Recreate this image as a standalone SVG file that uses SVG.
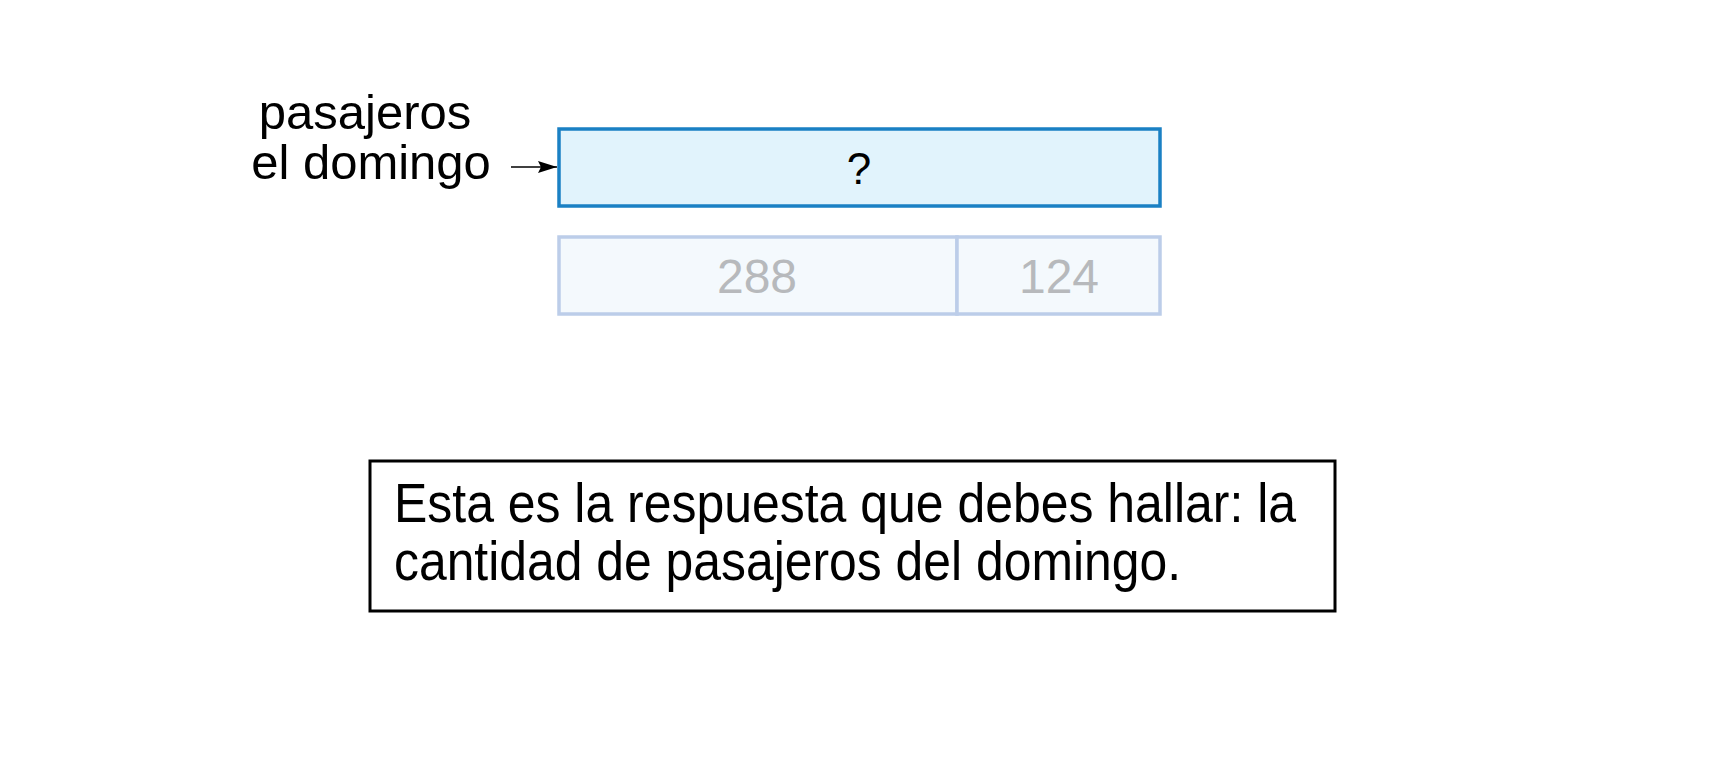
<svg xmlns="http://www.w3.org/2000/svg" width="1720" height="780" viewBox="0 0 1720 780">
<style>
.lbl{font-family:"Liberation Sans",Arial,sans-serif;font-size:49px;fill:#000}
.num{font-family:"Liberation Sans",Arial,sans-serif;font-size:48px;fill:#b7b9bc;text-anchor:middle}
.note{font-family:"Liberation Sans",Arial,sans-serif;font-size:55px;fill:#000}
</style>
<defs>
<marker id="ah" viewBox="0 0 19 13" refX="19" refY="6.5" markerWidth="19" markerHeight="13" markerUnits="userSpaceOnUse" orient="auto">
<path d="M0,0.5 L19,6.5 L0,12.5 L3,6.5 Z" fill="#000"/>
</marker>
</defs>
<rect width="1720" height="780" fill="#fff"/>
<g id="label">
<text class="lbl" x="365" y="129" text-anchor="middle">pasajeros</text>
<text class="lbl" x="371" y="179" text-anchor="middle">el domingo</text>
</g>
<g id="connectors">
<line x1="511" y1="167" x2="557" y2="167" stroke="#000" stroke-width="1.6" marker-end="url(#ah)"/>
</g>
<g id="total">
<rect x="559" y="129" width="601" height="77" fill="#e1f3fc" stroke="#1a80c4" stroke-width="3.5"/>
<text x="859" y="184" font-family="Liberation Sans, Arial, sans-serif" font-size="44" fill="#000" text-anchor="middle">?</text>
</g>
<g id="part1">
<rect x="559" y="237" width="398" height="77" fill="#f4f9fd" stroke="#bccde9" stroke-width="3.5"/>
<text class="num" x="757" y="293">288</text>
</g>
<g id="part2">
<rect x="957" y="237" width="203" height="77" fill="#f4f9fd" stroke="#bccde9" stroke-width="3.5"/>
<text class="num" x="1059" y="293">124</text>
</g>
<g id="note">
<rect x="370" y="461" width="965" height="150" fill="#fff" stroke="#000" stroke-width="3"/>
<text class="note" x="394" y="522" textLength="902" lengthAdjust="spacingAndGlyphs">Esta es la respuesta que debes hallar: la</text>
<text class="note" x="394" y="580" textLength="787" lengthAdjust="spacingAndGlyphs">cantidad de pasajeros del domingo.</text>
</g>
</svg>
